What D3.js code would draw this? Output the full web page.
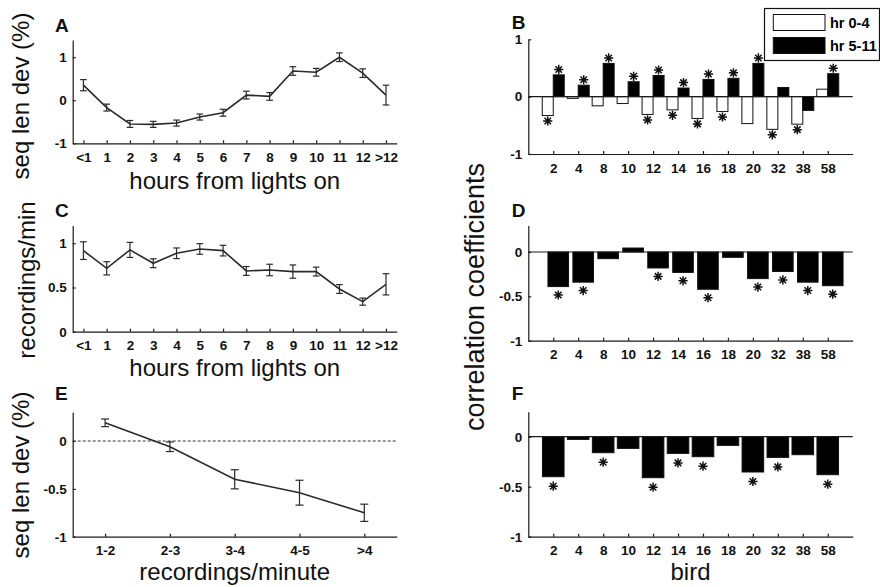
<!DOCTYPE html>
<html lang="en">
<head>
<meta charset="utf-8">
<title>Sequence length vs time of day</title>
<script type="text/javascript" src="https://cdnjs.cloudflare.com/ajax/libs/d3/7.8.5/d3.min.js"></script>
<style>
body { margin: 0; background: #fff; }
svg { display: block; font-family: "Liberation Sans", Arial, sans-serif; }
.axis { font-family: "Liberation Sans", Arial, sans-serif; font-size: 13.5px; font-weight: bold; }
.axis text { fill: #111; }
.axis path, .axis line { stroke: #1a1a1a; stroke-width: 1.2; }
.title { font-size: 24px; fill: #111; }
.letter { font-size: 19px; font-weight: bold; fill: #111; }
.series { fill: none; stroke: #2a2a2a; stroke-width: 1.6; }
.err { stroke: #2a2a2a; stroke-width: 1.2; }
.star { fill: none; stroke: #111; stroke-width: 1.5; }
</style>
</head>
<body>

<div id="chart"></div>

<script type="text/javascript">

var hours = ["<1", "1", "2", "3", "4", "5", "6", "7", "8", "9", "10", "11", "12", ">12"];

// A: sequence length deviation by hour
var seqDevByHour = [0.35, -0.17, -0.55, -0.56, -0.53, -0.39, -0.29, 0.12, 0.09, 0.68, 0.65, 1.0, 0.63, 0.12];
var seqDevByHourErr = [0.13, 0.08, 0.08, 0.07, 0.07, 0.07, 0.08, 0.09, 0.09, 0.1, 0.09, 0.1, 0.1, 0.23];

// C: recording rate by hour
var rateByHour = [0.917, 0.717, 0.925, 0.774, 0.887, 0.936, 0.917, 0.687, 0.698, 0.68, 0.68, 0.483, 0.34, 0.536];
var rateByHourErr = [0.1, 0.075, 0.085, 0.05, 0.06, 0.06, 0.06, 0.05, 0.065, 0.075, 0.05, 0.05, 0.04, 0.12];

// E: sequence length deviation by recording rate
var rateBins = ["1-2", "2-3", "3-4", "4-5", ">4"];
var seqDevByRate = [0.19, -0.06, -0.40, -0.54, -0.75];
var seqDevByRateErr = [0.04, 0.05, 0.1, 0.13, 0.09];

var birds = ["2", "4", "8", "10", "12", "14", "16", "18", "20", "32", "38", "58"];

// B: correlation coefficients, early vs late hours
var corrEarly = [-0.33, -0.03, -0.16, -0.12, -0.31, -0.23, -0.38, -0.26, -0.47, -0.57, -0.48, 0.13];
var corrEarlySig = [1, 0, 0, 0, 1, 1, 1, 1, 0, 1, 1, 0];
var corrLate = [0.38, 0.20, 0.58, 0.26, 0.37, 0.15, 0.30, 0.32, 0.58, 0.16, -0.24, 0.40];
var corrLateSig = [1, 1, 1, 1, 1, 1, 1, 1, 1, 0, 0, 1];

// D
var corrD = [-0.39, -0.34, -0.075, 0.045, -0.18, -0.23, -0.42, -0.06, -0.30, -0.22, -0.34, -0.38];
var corrDSig = [1, 1, 0, 0, 1, 1, 1, 0, 1, 1, 1, 1];

// F
var corrF = [-0.40, -0.027, -0.16, -0.117, -0.41, -0.167, -0.20, -0.087, -0.353, -0.207, -0.18, -0.38];
var corrFSig = [1, 0, 1, 0, 1, 1, 1, 0, 1, 1, 0, 1];

var legendLabels = ["hr 0-4", "hr 5-11"];

var svg = d3.select("#chart").append("svg")
    .attr("width", 880)
    .attr("height", 587);

var leftRange = [72.7, 396.7],
    rightRange = [528.3, 852.7];

var starGap = 0.095;

function starPath(r) {
    var a = r * 0.707;
    return "M" + (-r) + ",0L" + r + ",0M0," + (-r) + "L0," + r +
           "M" + (-a) + "," + (-a) + "L" + a + "," + a +
           "M" + (-a) + "," + a + "L" + a + "," + (-a);
}

function axes(g, x, y, yTicks, xPad) {
    g.append("g")
        .attr("class", "axis")
        .attr("transform", "translate(0," + y.range()[0] + ")")
        .call(d3.axisBottom(x).tickSizeInner(-3).tickSizeOuter(0).tickPadding(xPad));

    g.append("g")
        .attr("class", "axis")
        .attr("transform", "translate(" + x.range()[0] + ",0)")
        .call(d3.axisLeft(y).tickValues(yTicks).tickFormat(String).tickSizeInner(-3).tickSizeOuter(0).tickPadding(6));
}

function letter(g, text, px, py) {
    g.append("text").attr("class", "letter").attr("x", px).attr("y", py).text(text);
}

function linePanel(cfg) {
    var g = svg.append("g");
    var x = d3.scalePoint().domain(cfg.labels).range(leftRange).padding(cfg.pad);
    var y = d3.scaleLinear().domain(cfg.yDomain).range(cfg.yRange);

    axes(g, x, y, cfg.yTicks, 9);

    if (cfg.zeroLine) {
        g.append("line")
            .attr("x1", leftRange[0]).attr("x2", leftRange[1])
            .attr("y1", y(0)).attr("y2", y(0))
            .attr("stroke", "#333").attr("stroke-width", 1.2)
            .attr("stroke-dasharray", "3,2");
    }

    var pts = cfg.labels.map(function(l, i) {
        return {label: l, value: cfg.values[i], err: cfg.errors[i]};
    });

    g.append("path")
        .datum(pts)
        .attr("class", "series")
        .attr("d", d3.line().x(function(d) { return x(d.label); }).y(function(d) { return y(d.value); }));

    var bars = g.selectAll(".errbar")
        .data(pts)
        .enter().append("g")
            .attr("class", "errbar");

    bars.append("line").attr("class", "err")
        .attr("x1", function(d) { return x(d.label); })
        .attr("x2", function(d) { return x(d.label); })
        .attr("y1", function(d) { return y(d.value - d.err); })
        .attr("y2", function(d) { return y(d.value + d.err); });

    [-1, 1].forEach(function(s) {
        bars.append("line").attr("class", "err")
            .attr("x1", function(d) { return x(d.label) - cfg.cap; })
            .attr("x2", function(d) { return x(d.label) + cfg.cap; })
            .attr("y1", function(d) { return y(d.value + s * d.err); })
            .attr("y2", function(d) { return y(d.value + s * d.err); });
    });

    g.append("text").attr("class", "title")
        .attr("x", (leftRange[0] + leftRange[1]) / 2)
        .attr("y", cfg.xTitleY)
        .attr("text-anchor", "middle")
        .text(cfg.xTitle);

    if (cfg.yTitle) {
        g.append("text").attr("class", "title")
            .attr("transform", "translate(" + cfg.yTitlePos[0] + "," + cfg.yTitlePos[1] + ") rotate(-90)")
            .attr("text-anchor", "middle")
            .text(cfg.yTitle);
    }

    letter(g, cfg.letter, 55, cfg.letterY);
}

function barPanel(cfg) {
    var g = svg.append("g");
    var x = d3.scalePoint().domain(birds).range(rightRange).padding(1);
    var y = d3.scaleLinear().domain(cfg.yDomain).range(cfg.yRange);

    axes(g, x, y, cfg.yTicks, 9);

    cfg.series.forEach(function(s) {
        var rows = birds.map(function(b, i) { return {bird: b, value: s.values[i], sig: s.sig[i]}; });

        g.append("g").selectAll("rect")
            .data(rows)
            .enter().append("rect")
                .attr("x", function(d) { return x(d.bird) + s.offset; })
                .attr("width", s.width)
                .attr("y", function(d) { return y(Math.max(0, d.value)); })
                .attr("height", function(d) { return Math.abs(y(d.value) - y(0)); })
                .attr("fill", s.fill)
                .attr("stroke", "#111")
                .attr("stroke-width", 1);

        g.append("g").selectAll("path")
            .data(rows.filter(function(d) { return d.sig; }))
            .enter().append("path")
                .attr("class", "star")
                .attr("transform", function(d) {
                    var v = d.value + (d.value < 0 ? -starGap : starGap);
                    return "translate(" + (x(d.bird) + s.offset + s.width / 2) + "," + y(v) + ")";
                })
                .attr("d", starPath(4.6));
    });

    g.append("line")
        .attr("x1", rightRange[0]).attr("x2", rightRange[1])
        .attr("y1", y(0)).attr("y2", y(0))
        .attr("stroke", "#1a1a1a").attr("stroke-width", 1.2);

    if (cfg.xTitle) {
        g.append("text").attr("class", "title")
            .attr("x", (rightRange[0] + rightRange[1]) / 2)
            .attr("y", cfg.xTitleY)
            .attr("text-anchor", "middle")
            .text(cfg.xTitle);
    }

    letter(g, cfg.letter, 511.7, cfg.letterY);
}

linePanel({
    labels: hours, values: seqDevByHour, errors: seqDevByHourErr, pad: 0.46, cap: 3.3,
    yDomain: [-1, 1.4], yRange: [143.3, 40], yTicks: [-1, 0, 1],
    xTitle: "hours from lights on", xTitleY: 189,
    yTitle: "seq len dev (%)", yTitlePos: [29, 96],
    letter: "A", letterY: 31.7
});

linePanel({
    labels: hours, values: rateByHour, errors: rateByHourErr, pad: 0.46, cap: 3.3,
    yDomain: [0, 1.2], yRange: [331.7, 225.6], yTicks: [0, 0.5, 1],
    xTitle: "hours from lights on", xTitleY: 376,
    yTitle: "recordings/min", yTitlePos: [35, 280],
    letter: "C", letterY: 216.7
});

linePanel({
    labels: rateBins, values: seqDevByRate, errors: seqDevByRateErr, pad: 0.5, cap: 4,
    yDomain: [-1, 0.3], yRange: [536.7, 412.3], yTicks: [-1, -0.5, 0],
    zeroLine: true,
    xTitle: "recordings/minute", xTitleY: 580,
    yTitle: "seq len dev (%)", yTitlePos: [29, 475],
    letter: "E", letterY: 400
});

barPanel({
    yDomain: [-1, 1], yRange: [154, 39.3], yTicks: [-1, 0, 1],
    series: [
        {values: corrEarly, sig: corrEarlySig, fill: "#fff", offset: -11, width: 11},
        {values: corrLate, sig: corrLateSig, fill: "#000", offset: 0, width: 11}
    ],
    letter: "B", letterY: 29
});

barPanel({
    yDomain: [-1, 0.3], yRange: [340.7, 225.4], yTicks: [-1, -0.5, 0],
    series: [{values: corrD, sig: corrDSig, fill: "#000", offset: -5.3, width: 20.6}],
    letter: "D", letterY: 216.7
});

barPanel({
    yDomain: [-1, 0.25], yRange: [536.7, 411.7], yTicks: [-1, -0.5, 0],
    series: [{values: corrF, sig: corrFSig, fill: "#000", offset: -10.8, width: 21.6}],
    xTitle: "bird", xTitleY: 580,
    letter: "F", letterY: 400
});

svg.append("text").attr("class", "title")
    .attr("transform", "translate(484,297) rotate(-90)")
    .attr("text-anchor", "middle")
    .style("font-size", "27px")
    .text("correlation coefficients");

// legend
var legend = svg.append("g");
legend.append("rect")
    .attr("x", 764.5).attr("y", 8.5).attr("width", 115).attr("height", 52)
    .attr("fill", "#fff").attr("stroke", "#111").attr("stroke-width", 1.2);

legend.selectAll(".swatch")
    .data(legendLabels)
    .enter().append("rect")
        .attr("class", "swatch")
        .attr("x", 773.3)
        .attr("y", function(d, i) { return 14.5 + i * 23; })
        .attr("width", 51.7).attr("height", 16)
        .attr("fill", function(d, i) { return i == 0 ? "#fff" : "#000"; })
        .attr("stroke", "#111").attr("stroke-width", 1);

legend.selectAll(".legend-label")
    .data(legendLabels)
    .enter().append("text")
        .attr("class", "legend-label")
        .attr("x", 830)
        .attr("y", function(d, i) { return 28 + i * 23; })
        .style("font-size", "14.5px")
        .style("font-weight", "bold")
        .text(function(d) { return d; });

</script>

</body>
</html>
